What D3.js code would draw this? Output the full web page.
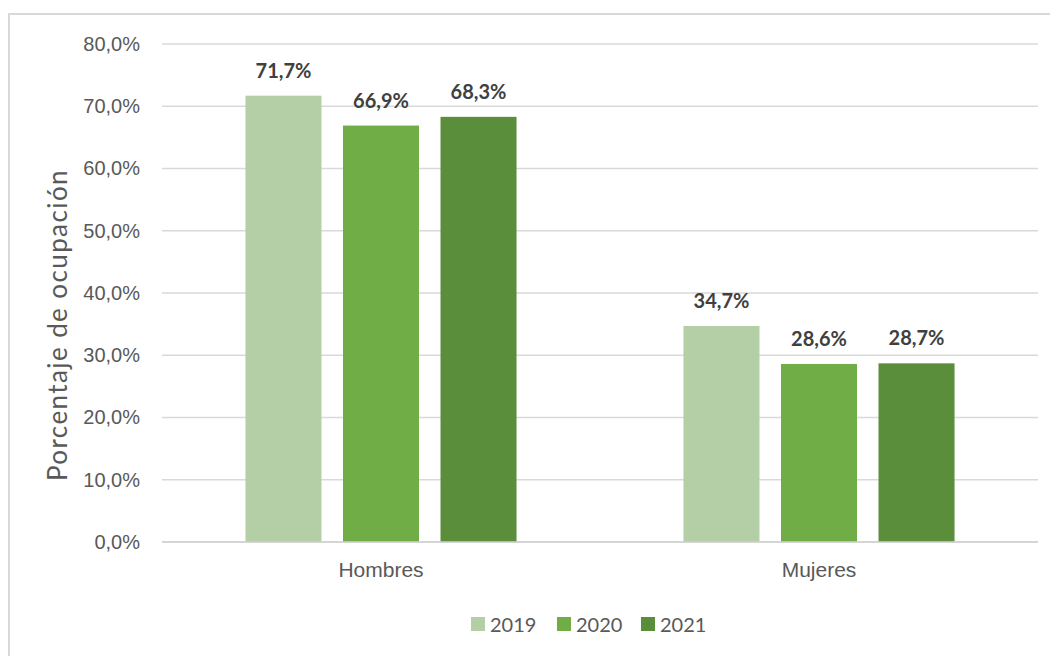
<!DOCTYPE html>
<html>
<head>
<meta charset="utf-8">
<script src="https://cdn.jsdelivr.net/npm/d3@7"></script>
<style>
  body { margin: 0; background: #fff; }
  svg { display: block; font-family: Lato, "Open Sans", sans-serif; }
</style>
</head>
<body>
<div id="chart"></div>
<script>
// data
var categories = ["Hombres", "Mujeres"];
var years = ["2019", "2020", "2021"];
var values2019 = [71.7, 34.7];
var values2020 = [66.9, 28.6];
var values2021 = [68.3, 28.7];
var yTicks = [0, 10, 20, 30, 40, 50, 60, 70, 80];
var colors = ["#b4cea6", "#70ad47", "#5b8e3a"];

var seriesValues = { "2019": values2019, "2020": values2020, "2021": values2021 };

var W = 1050, H = 656;
var margin = { top: 44, right: 12, bottom: 114, left: 162 };
var width = W - margin.left - margin.right,
    height = H - margin.top - margin.bottom;

var svg = d3.select("#chart").append("svg")
    .attr("width", W)
    .attr("height", H);

// chart border (only top and left fall inside the picture)
svg.append("rect")
    .attr("x", 9).attr("y", 14)
    .attr("width", W + 20).attr("height", H + 20)
    .attr("fill", "none")
    .attr("stroke", "#d9d9d9")
    .attr("stroke-width", 2);

var g = svg.append("g")
    .attr("transform", "translate(" + margin.left + "," + margin.top + ")");

// scales
var x0 = d3.scaleBand()
    .domain(categories)
    .range([0, width]);

var x1 = d3.scaleBand()
    .domain(years)
    .range([0, x0.bandwidth()])
    .paddingInner(0.2205)
    .paddingOuter(0.856);

var y = d3.scaleLinear()
    .domain([0, 80])
    .range([height, 0]);

// gridlines
g.selectAll(".grid")
    .data(yTicks)
  .enter().append("line")
    .attr("class", "grid")
    .attr("x1", 0)
    .attr("x2", width)
    .attr("y1", function(d) { return y(d); })
    .attr("y2", function(d) { return y(d); })
    .attr("stroke", "#d9d9d9")
    .attr("stroke-width", 1.5);

// y axis labels
var yAxis = d3.axisLeft(y)
    .tickValues(yTicks)
    .tickSize(0)
    .tickPadding(22)
    .tickFormat(function(d) { return d3.format(".1f")(d).replace(".", ",") + "%"; });

var yg = g.append("g").attr("class", "y-axis").call(yAxis);
yg.select(".domain").remove();
yg.selectAll("text")
    .attr("fill", "#595959")
    .style("font-size", "20px");

// x axis labels
var xAxis = d3.axisBottom(x0).tickSize(0).tickPadding(20);
var xg = g.append("g")
    .attr("class", "x-axis")
    .attr("transform", "translate(0," + height + ")")
    .call(xAxis);
xg.select(".domain").remove();
xg.selectAll("text")
    .attr("fill", "#595959")
    .style("font-size", "21px");

// bars
var groups = g.selectAll(".cat")
    .data(categories)
  .enter().append("g")
    .attr("class", "cat")
    .attr("transform", function(d) { return "translate(" + x0(d) + ",0)"; });

groups.selectAll("rect")
    .data(function(d, i) {
      return years.map(function(yr, j) { return { year: yr, value: seriesValues[yr][i], color: colors[j] }; });
    })
  .enter().append("rect")
    .attr("x", function(d) { return x1(d.year); })
    .attr("y", function(d) { return y(d.value); })
    .attr("width", x1.bandwidth())
    .attr("height", function(d) { return height - y(d.value); })
    .attr("fill", function(d) { return d.color; });

groups.selectAll(".label")
    .data(function(d, i) {
      return years.map(function(yr) { return { year: yr, value: seriesValues[yr][i] }; });
    })
  .enter().append("text")
    .attr("class", "label")
    .attr("x", function(d) { return x1(d.year) + x1.bandwidth() / 2; })
    .attr("y", function(d) { return y(d.value) - 18; })
    .attr("text-anchor", "middle")
    .attr("fill", "#404040")
    .style("font-size", "20px")
    .style("font-weight", "bold")
    .text(function(d) { return d3.format(".1f")(d.value).replace(".", ",") + "%"; });

// baseline axis
g.append("line")
    .attr("x1", 0).attr("x2", width)
    .attr("y1", height).attr("y2", height)
    .attr("stroke", "#d0d0d0")
    .attr("stroke-width", 1.5);

// y title
svg.append("text")
    .attr("transform", "translate(67,325) rotate(-90)")
    .attr("text-anchor", "middle")
    .attr("fill", "#595959")
    .style("font-size", "26px")
    .style("letter-spacing", "1.4px")
    .text("Porcentaje de ocupación");

// legend
var legendX = [471, 557, 641];
var legend = svg.selectAll(".legend")
    .data(years)
  .enter().append("g")
    .attr("class", "legend")
    .attr("transform", function(d, i) { return "translate(" + legendX[i] + ",617)"; });

legend.append("rect")
    .attr("width", 14).attr("height", 14)
    .attr("fill", function(d, i) { return colors[i]; });

legend.append("text")
    .attr("x", 19).attr("y", 15)
    .attr("fill", "#595959")
    .style("font-size", "20px")
    .text(function(d) { return d; });
</script>
</body>
</html>
